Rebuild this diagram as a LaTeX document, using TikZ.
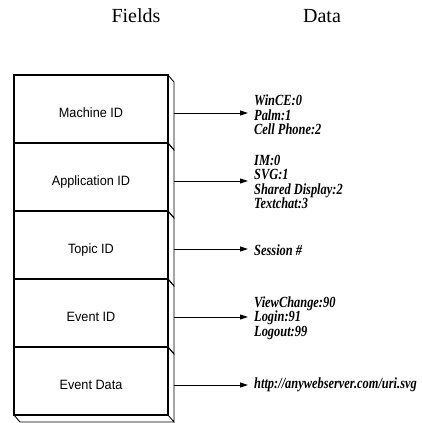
\documentclass[tikz,border=0pt]{standalone}
\usepackage{fontspec}
\setmainfont{Liberation Serif}
\newfontfamily\fieldfont[FakeStretch=0.94]{Liberation Sans}
\newfontfamily\datafont[FakeStretch=0.8]{Liberation Serif}
\usetikzlibrary{arrows.meta,positioning}

\begin{document}
\begin{tikzpicture}[x=1pt,y=-1pt,>={Triangle[length=8pt,width=5pt]},node distance=68pt,
  field/.style={rectangle,draw,line width=1.2pt,minimum width=154pt,minimum height=68pt,inner sep=0pt,outer sep=0pt,text height=20pt,text depth=3pt,font=\fieldfont\fontsize{13.5}{15}\selectfont},
  data/.style={align=left,inner sep=0pt,font=\datafont\bfseries\itshape\fontsize{15.5}{14.5}\selectfont},
  side/.style={draw,line width=0.9pt,line join=miter},
  head/.style={font=\fontsize{20}{24}\selectfont}]
  \useasboundingbox (0,0) rectangle (422,423);

  \node[head] (fields) at (136,16) {Fields};
  \node[head] (data) at (322,16) {Data};

  \node[field] (mach) at (91,109) {Machine ID};
  \node[field] (app) [below of=mach] {Application ID};
  \node[field] (topic) [below of=app] {Topic ID};
  \node[field] (evid) [below of=topic] {Event ID};
  \node[field] (evdata) [below of=evid] {Event Data};

  \node[data] (dmach) [right=86pt of mach.east, yshift=-6pt] {WinCE:0\\Palm:1\\Cell Phone:2};
  \node[data] (dapp) [right=86pt of app.east, yshift=-5pt] {IM:0\\SVG:1\\Shared Display:2\\Textchat:3};
  \node[data] (dtopic) [right=86pt of topic.east, yshift=-5pt] {Session \#};
  \node[data] (devid) [right=86pt of evid.east, yshift=-5pt] {ViewChange:90\\Login:91\\Logout:99};
  \node[data] (devdata) [right=86pt of evdata.east, yshift=-4pt] {http://anywebserver.com/uri.svg};

  % right faces and bottom face
  \foreach \b in {mach,app,topic,evid,evdata}
    \draw[side] (\b.north east) -- ++(6,7) -- ([shift={(6,7)}]\b.south east) -- (\b.south east);
  \draw[side] (evdata.south west) -- ++(6,7) -- ([shift={(6,7)}]evdata.south east);

  \foreach \b/\d in {mach/dmach,app/dapp,topic/dtopic,evid/devid,evdata/devdata}
    \draw[->,line width=0.9pt,shorten >=6pt] ([shift={(6,4)}]\b.east) coordinate (\b-out) -- (\b-out -| \d.west);
\end{tikzpicture}
\end{document}
